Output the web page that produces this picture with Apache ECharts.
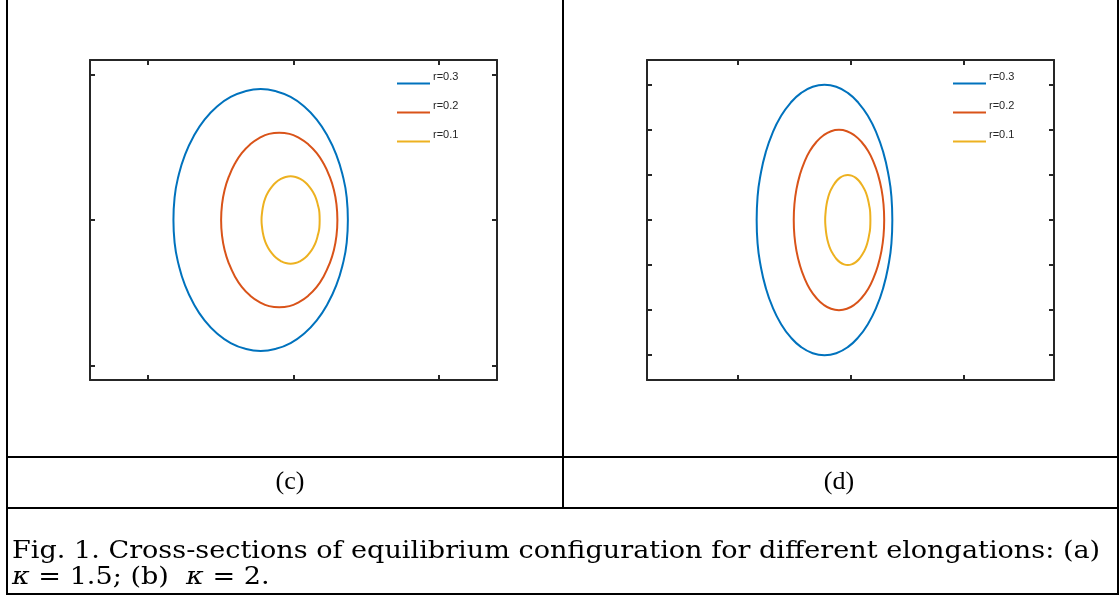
<!DOCTYPE html>
<html>
<head>
<meta charset="utf-8">
<script src="https://cdn.jsdelivr.net/npm/echarts@6/dist/echarts.min.js"></script>
<style>
  html, body { margin: 0; padding: 0; background: #fff; }
  #main { width: 1119px; height: 597px; }
</style>
</head>
<body>
<div id="main"></div>
<script>
var chartDom = document.getElementById('main');
var myChart = echarts.init(chartDom);

// series names and colours
var names = ['r=0.3', 'r=0.2', 'r=0.1'];
var colors = ['#0072BD', '#D95319', '#EDB120'];

// tick positions (no labels shown in the figure)
var xTicks = [0.5, 1, 1.5];
var yTicksC = [-0.5, 0, 0.5];
var yTicksD = [-0.6, -0.4, -0.2, 0, 0.2, 0.4, 0.6];

// panel (c), kappa = 1.5 : points read along each flux surface
var c_r03 = [[1.187,0],[1.183,0.078],[1.169,0.154],[1.147,0.225],[1.117,0.289],[1.08,0.345],[1.037,0.39],[0.99,0.423],[0.939,0.443],[0.887,0.45],[0.835,0.443],[0.784,0.423],[0.737,0.39],[0.694,0.345],[0.657,0.289],[0.627,0.225],[0.605,0.154],[0.591,0.078],[0.587,0],[0.591,-0.078],[0.605,-0.154],[0.627,-0.225],[0.657,-0.289],[0.694,-0.345],[0.737,-0.39],[0.784,-0.423],[0.835,-0.443],[0.887,-0.45],[0.939,-0.443],[0.99,-0.423],[1.037,-0.39],[1.08,-0.345],[1.117,-0.289],[1.147,-0.225],[1.169,-0.154],[1.183,-0.078],[1.187,0]];
var c_r02 = [[1.151,0],[1.148,0.052],[1.139,0.103],[1.124,0.15],[1.104,0.193],[1.08,0.23],[1.051,0.26],[1.019,0.282],[0.986,0.296],[0.951,0.3],[0.916,0.296],[0.883,0.282],[0.851,0.26],[0.822,0.23],[0.798,0.193],[0.778,0.15],[0.763,0.103],[0.754,0.052],[0.751,0],[0.754,-0.052],[0.763,-0.103],[0.778,-0.15],[0.798,-0.193],[0.822,-0.23],[0.851,-0.26],[0.883,-0.282],[0.916,-0.296],[0.951,-0.3],[0.986,-0.296],[1.019,-0.282],[1.051,-0.26],[1.08,-0.23],[1.104,-0.193],[1.124,-0.15],[1.139,-0.103],[1.148,-0.052],[1.151,0]];
var c_r01 = [[1.09,0],[1.089,0.026],[1.084,0.051],[1.077,0.075],[1.067,0.096],[1.054,0.115],[1.04,0.13],[1.024,0.141],[1.007,0.148],[0.99,0.15],[0.973,0.148],[0.956,0.141],[0.94,0.13],[0.926,0.115],[0.913,0.096],[0.903,0.075],[0.896,0.051],[0.892,0.026],[0.89,0],[0.892,-0.026],[0.896,-0.051],[0.903,-0.075],[0.913,-0.096],[0.926,-0.115],[0.94,-0.13],[0.956,-0.141],[0.973,-0.148],[0.99,-0.15],[1.007,-0.148],[1.024,-0.141],[1.04,-0.13],[1.054,-0.115],[1.067,-0.096],[1.077,-0.075],[1.084,-0.051],[1.089,-0.026],[1.09,0]];

// panel (d), kappa = 2
var d_r03 = [[1.185,0],[1.181,0.104],[1.167,0.205],[1.145,0.3],[1.115,0.386],[1.078,0.46],[1.035,0.52],[0.988,0.564],[0.937,0.591],[0.885,0.6],[0.833,0.591],[0.782,0.564],[0.735,0.52],[0.692,0.46],[0.655,0.386],[0.625,0.3],[0.603,0.205],[0.589,0.104],[0.585,0],[0.589,-0.104],[0.603,-0.205],[0.625,-0.3],[0.655,-0.386],[0.692,-0.46],[0.735,-0.52],[0.782,-0.564],[0.833,-0.591],[0.885,-0.6],[0.937,-0.591],[0.988,-0.564],[1.035,-0.52],[1.078,-0.46],[1.115,-0.386],[1.145,-0.3],[1.167,-0.205],[1.181,-0.104],[1.185,0]];
var d_r02 = [[1.149,0],[1.146,0.07],[1.137,0.137],[1.122,0.2],[1.102,0.257],[1.078,0.306],[1.049,0.346],[1.017,0.376],[0.984,0.394],[0.949,0.4],[0.914,0.394],[0.881,0.376],[0.849,0.346],[0.82,0.306],[0.796,0.257],[0.776,0.2],[0.761,0.137],[0.752,0.07],[0.749,0],[0.752,-0.07],[0.761,-0.137],[0.776,-0.2],[0.796,-0.257],[0.82,-0.306],[0.849,-0.346],[0.881,-0.376],[0.914,-0.394],[0.949,-0.4],[0.984,-0.394],[1.017,-0.376],[1.049,-0.346],[1.078,-0.306],[1.102,-0.257],[1.122,-0.2],[1.137,-0.137],[1.146,-0.07],[1.149,0]];
var d_r01 = [[1.088,0],[1.087,0.035],[1.082,0.068],[1.075,0.1],[1.065,0.129],[1.052,0.153],[1.038,0.173],[1.022,0.188],[1.005,0.197],[0.988,0.2],[0.971,0.197],[0.954,0.188],[0.938,0.173],[0.924,0.153],[0.911,0.129],[0.901,0.1],[0.894,0.068],[0.89,0.035],[0.888,0],[0.89,-0.035],[0.894,-0.068],[0.901,-0.1],[0.911,-0.129],[0.924,-0.153],[0.938,-0.173],[0.954,-0.188],[0.971,-0.197],[0.988,-0.2],[1.005,-0.197],[1.022,-0.188],[1.038,-0.173],[1.052,-0.153],[1.065,-0.129],[1.075,-0.1],[1.082,-0.068],[1.087,-0.035],[1.088,0]];

var panels = [
  { left: 90, xMin: 0.3, xMax: 1.7, yMin: -0.55, yMax: 0.55, yTicks: yTicksC, curves: [c_r03, c_r02, c_r01], legendLeft: 392 },
  { left: 647, xMin: 0.1, xMax: 1.9, yMin: -0.71, yMax: 0.71, yTicks: yTicksD, curves: [d_r03, d_r02, d_r01], legendLeft: 948 }
];

var axisColor = '#262626';

function makeAxis(pos, gi, min, max, ticks) {
  return {
    type: 'value',
    gridIndex: gi,
    position: pos,
    min: min,
    max: max,
    axisLine: { show: true, onZero: false, lineStyle: { color: axisColor, width: 2 } },
    axisTick: { show: true, inside: true, length: 5, customValues: ticks, lineStyle: { color: axisColor, width: 2 } },
    axisLabel: { show: false },
    splitLine: { show: false }
  };
}

var grids = [], xAxes = [], yAxes = [], series = [], legends = [];
panels.forEach(function (p, gi) {
  grids.push({ left: p.left, top: 60, width: 407, height: 320, containLabel: false });
  xAxes.push(makeAxis('bottom', gi, p.xMin, p.xMax, xTicks));
  xAxes.push(makeAxis('top', gi, p.xMin, p.xMax, xTicks));
  yAxes.push(makeAxis('left', gi, p.yMin, p.yMax, p.yTicks));
  yAxes.push(makeAxis('right', gi, p.yMin, p.yMax, p.yTicks));
  p.curves.forEach(function (pts, k) {
    series.push({
      name: names[k],
      type: 'line',
      xAxisIndex: gi * 2,
      yAxisIndex: gi * 2,
      data: pts,
      smooth: 0.5,
      symbol: 'none',
      lineStyle: { color: colors[k], width: 2 },
      itemStyle: { color: colors[k] }
    });
    legends.push({
      data: [names[k]],
      left: p.legendLeft,
      top: 66 + k * 29,
      icon: 'rect',
      itemWidth: 33,
      itemHeight: 2,
      selectedMode: false,
      formatter: '{t|{name}}',
      textStyle: {
        rich: { t: { fontFamily: 'Liberation Sans', fontSize: 11, color: axisColor, padding: [0, 0, 14, -2] } }
      }
    });
  });
});

var lineStyle = { stroke: '#000', lineWidth: 2 };
var serif = 'DejaVu Serif';

var option = {
  animation: false,
  backgroundColor: '#fff',
  grid: grids,
  xAxis: xAxes,
  yAxis: yAxes,
  legend: legends,
  series: series,
  graphic: [
    { type: 'line', shape: { x1: 7, y1: 0, x2: 7, y2: 595 }, style: lineStyle },
    { type: 'line', shape: { x1: 1118, y1: 0, x2: 1118, y2: 595 }, style: lineStyle },
    { type: 'line', shape: { x1: 563, y1: 0, x2: 563, y2: 508 }, style: lineStyle },
    { type: 'line', shape: { x1: 6, y1: 457, x2: 1119, y2: 457 }, style: lineStyle },
    { type: 'line', shape: { x1: 6, y1: 508, x2: 1119, y2: 508 }, style: lineStyle },
    { type: 'line', shape: { x1: 6, y1: 594, x2: 1119, y2: 594 }, style: lineStyle },
    { type: 'text', x: 290, y: 482, style: { text: '(c)', font: '26px Liberation Serif', fill: '#000', align: 'center', verticalAlign: 'middle' } },
    { type: 'text', x: 839, y: 482, style: { text: '(d)', font: '26px Liberation Serif', fill: '#000', align: 'center', verticalAlign: 'middle' } },
    { type: 'text', x: 12, y: 552, scaleX: 1.128, style: { text: 'Fig. 1. Cross-sections of equilibrium configuration for different elongations: (a)', font: '24px ' + serif, fill: '#000', align: 'left', verticalAlign: 'middle' } },
    { type: 'text', x: 12, y: 578, scaleX: 1.128, style: {
        text: '{i|\u03ba} = 1.5; (b)  {i|\u03ba} = 2.',
        font: '24px ' + serif, fill: '#000', align: 'left', verticalAlign: 'middle',
        rich: { i: { fontStyle: 'italic', fontFamily: serif, fontSize: 24 } }
      } }
  ]
};

myChart.setOption(option);
</script>
</body>
</html>
